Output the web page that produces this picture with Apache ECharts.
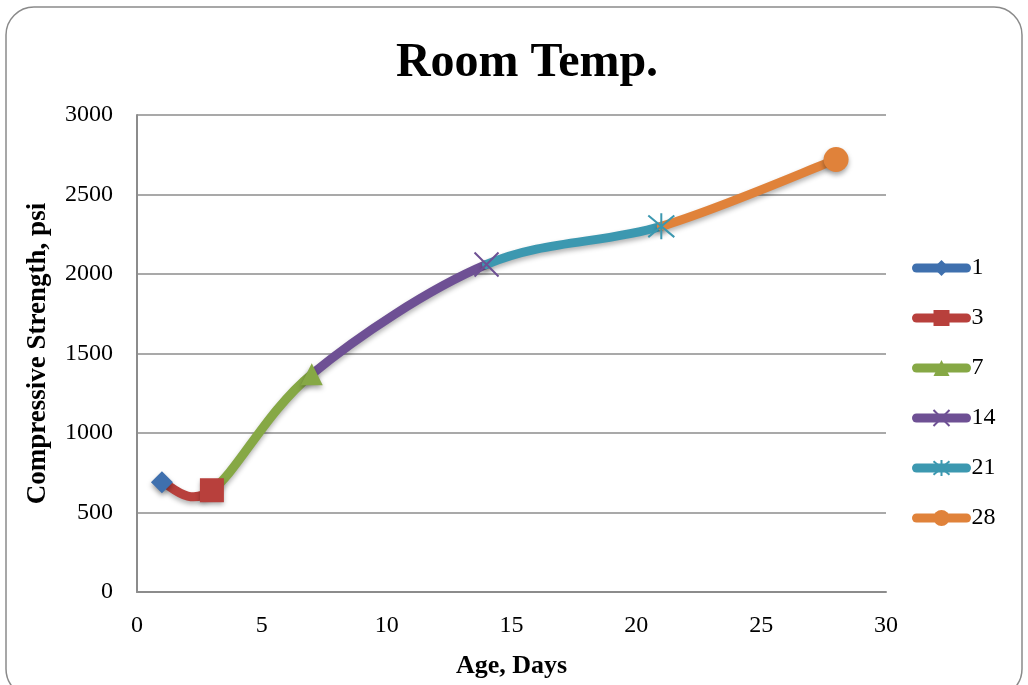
<!DOCTYPE html>
<html>
<head>
<meta charset="utf-8">
<script src="https://cdn.jsdelivr.net/npm/echarts@6/dist/echarts.min.js"></script>
<style>
html,body{margin:0;padding:0;background:#fff;}
#chart{width:1028px;height:685px;}
</style>
</head>
<body>
<div id="chart"></div>
<script>
// ---- data ----
var ages = [1, 3, 7, 14, 21, 28];
var strengths = [690, 640, 1370, 2060, 2300, 2720];
var seriesNames = ['1', '3', '7', '14', '21', '28'];
var xTicks = [0, 5, 10, 15, 20, 25, 30];
var yTicks = [0, 500, 1000, 1500, 2000, 2500, 3000];

var colors = ['#3F70AE', '#B8403C', '#86A845', '#6E5094', '#3C98B0', '#E0823A'];
var symbols = [
  'diamond',
  'rect',
  'triangle',
  'path://M0,0L10,10M10,0L0,10',
  'path://M0,1L10,11M10,1L0,11M5,0L5,12',
  'circle'
];
var symbolSizes = [22, 24, 22, 24, 26, 25];
var strokeOnly = [false, false, false, true, true, false];

var FONT = 'Liberation Serif';
var chart = echarts.init(document.getElementById('chart'));

var curveData = ages.map(function (a, i) { return [a, strengths[i]]; });

// Excel-style smoothed segments (Catmull-Rom, tension 1/6), one segment per point after the first,
// coloured like the point it ends at. Coordinates come from the chart's own scales (api.coord).
function renderSegment(params, api) {
  var i = params.dataIndex;
  if (i === 0) return null;
  var n = curveData.length;
  var p0 = api.coord(curveData[Math.max(i - 2, 0)]);
  var p1 = api.coord(curveData[i - 1]);
  var p2 = api.coord(curveData[i]);
  var p3 = api.coord(curveData[Math.min(i + 1, n - 1)]);
  return {
    type: 'bezierCurve',
    shape: {
      x1: p1[0], y1: p1[1],
      x2: p2[0], y2: p2[1],
      cpx1: p1[0] + (p2[0] - p0[0]) / 6,
      cpy1: p1[1] + (p2[1] - p0[1]) / 6,
      cpx2: p2[0] - (p3[0] - p1[0]) / 6,
      cpy2: p2[1] - (p3[1] - p1[1]) / 6
    },
    style: {
      fill: null,
      stroke: colors[i],
      lineWidth: 9,
      lineCap: 'round',
      shadowBlur: 5,
      shadowColor: 'rgba(0,0,0,0.3)',
      shadowOffsetY: 3
    }
  };
}

var series = [{
  name: 'curve',
  type: 'custom',
  data: curveData,
  renderItem: renderSegment,
  z: 2,
  silent: true
}];

ages.forEach(function (a, i) {
  series.push({
    name: seriesNames[i],
    type: 'line',
    data: [[a, strengths[i]]],
    symbol: symbols[i],
    symbolSize: symbolSizes[i],
    showSymbol: true,
    lineStyle: { width: 9, color: colors[i], cap: 'round' },
    itemStyle: strokeOnly[i] ? {
      color: 'rgba(0,0,0,0)',
      borderColor: colors[i],
      borderWidth: 2
    } : {
      color: colors[i],
      shadowBlur: 5,
      shadowColor: 'rgba(0,0,0,0.35)',
      shadowOffsetY: 3
    },
    z: 5
  });
});

var option = {
  backgroundColor: '#fff',
  animation: false,
  title: {
    text: 'Room Temp.',
    left: 522,
    textAlign: 'center',
    top: 35,
    textStyle: { fontFamily: FONT, fontSize: 48, fontWeight: 'bold', color: '#000' }
  },
  graphic: [{
    type: 'rect',
    shape: { x: 6, y: 7, width: 1016, height: 690, r: 28 },
    style: { fill: 'none', stroke: '#8a8a8a', lineWidth: 1.5 },
    z: -1,
    silent: true
  }],
  grid: { left: 137, right: 142, top: 115, bottom: 93 },
  legend: {
    orient: 'vertical',
    left: 907,
    top: 251,
    data: seriesNames,
    itemWidth: 50,
    itemHeight: 20,
    itemGap: 26,
    selectedMode: false,
    lineStyle: { width: 9, cap: 'round' },
    textStyle: { fontFamily: FONT, fontSize: 24, color: '#000', lineHeight: 24 }
  },
  xAxis: {
    type: 'value',
    min: xTicks[0],
    max: xTicks[xTicks.length - 1],
    interval: xTicks[1] - xTicks[0],
    name: 'Age, Days',
    nameLocation: 'middle',
    nameGap: 61,
    nameTextStyle: { fontFamily: FONT, fontSize: 26, fontWeight: 'bold', color: '#000' },
    axisLine: { show: true, lineStyle: { color: '#8c8c8c', width: 2 } },
    axisTick: { show: false },
    splitLine: { show: false },
    axisLabel: { fontFamily: FONT, fontSize: 24, color: '#000', margin: 22 }
  },
  yAxis: {
    type: 'value',
    min: yTicks[0],
    max: yTicks[yTicks.length - 1],
    interval: yTicks[1] - yTicks[0],
    name: 'Compressive Strength, psi',
    nameLocation: 'middle',
    nameGap: 85,
    nameTextStyle: { fontFamily: FONT, fontSize: 27, fontWeight: 'bold', color: '#000' },
    axisLine: { show: true, lineStyle: { color: '#8c8c8c', width: 2 } },
    axisTick: { show: false },
    splitLine: { show: true, lineStyle: { color: '#8c8c8c', width: 1.5 } },
    axisLabel: {
      fontFamily: FONT, fontSize: 24, color: '#000', margin: 24,
      formatter: function (v) { return String(v); }
    }
  },
  series: series
};
chart.setOption(option);
</script>
</body>
</html>
